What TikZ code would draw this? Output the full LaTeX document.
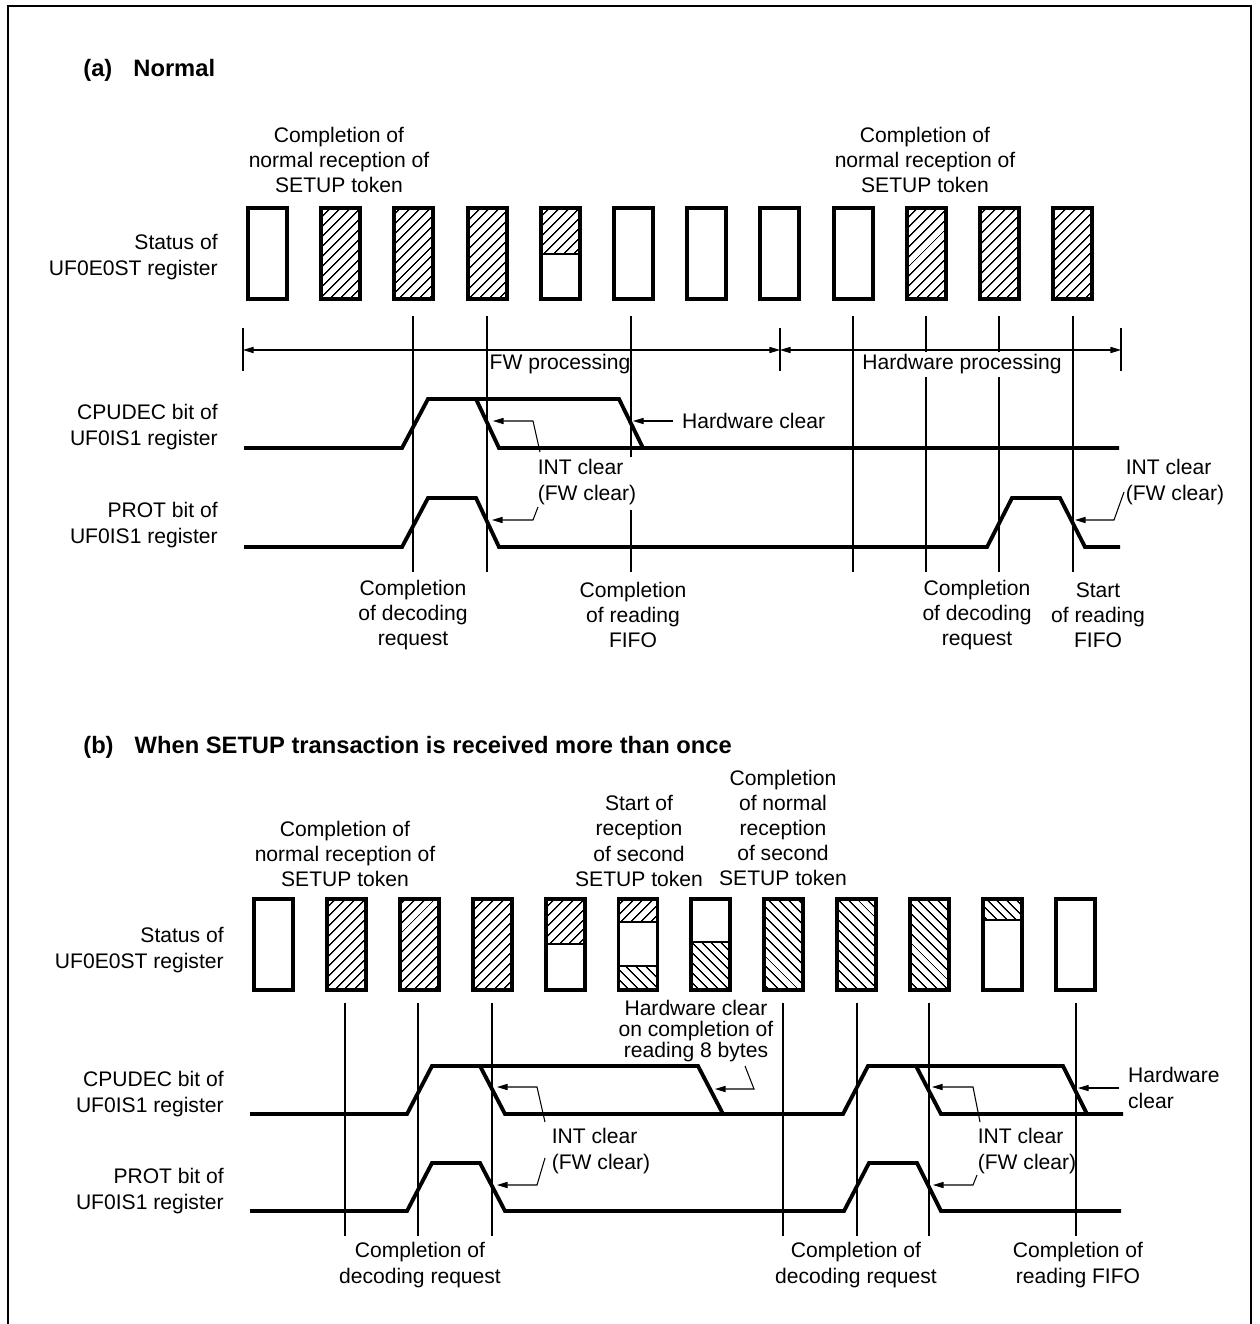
\documentclass[tikz,border=0pt]{standalone}
\usepackage{fontspec}
\setmainfont{Liberation Sans}
\usetikzlibrary{arrows.meta, patterns.meta}

\tikzset{
  regbox/.style={line width=2.2pt},
  split/.style={line width=1pt},
  hatchne/.style={pattern={Lines[angle=45,distance=4pt,line width=0.8pt]}},
  hatchnw/.style={pattern={Lines[angle=-45,distance=4pt,line width=0.8pt]}},
  signal/.style={line width=2.2pt, line join=miter},
  guide/.style={line width=0.6pt},
  leader/.style={line width=0.6pt, -{Triangle[length=6pt,width=3.5pt]}},
  span/.style={line width=0.6pt, {Triangle[length=6pt,width=3.5pt]}-{Triangle[length=6pt,width=3.5pt]}},
  txt/.style={inner sep=0pt, font=\fontsize{12}{14.3}\selectfont},
  title/.style={txt, anchor=west, font=\fontsize{13.5}{16}\selectfont\bfseries},
}

\begin{document}
\begin{tikzpicture}[x=0.02cm, y=-0.02cm]
  \useasboundingbox (0,0) rectangle (1259,1324);
  % Frame, open at the bottom
  \draw[line width=1.5pt] (8,1324) -- (8,6) -- (1251,6) -- (1251,1324);

  % ================= (a) Normal =================
  \node[title] (titleA) at (83,70) {(a)\hspace{12pt}Normal};

  % Register names
  \node[txt, anchor=east, align=right] (staA) at (218,257) {Status of\\UF0E0ST register};
  \node[txt, anchor=east, align=right] (cpuA) at (218,427) {CPUDEC bit of\\UF0IS1 register};
  \node[txt, anchor=east, align=right] (protA) at (218,525) {PROT bit of\\UF0IS1 register};

  % Events above the boxes
  \node[txt, align=center] (setupA1) at (339,160) {Completion of\\normal reception of\\SETUP token};
  \node[txt, align=center] (setupA2) at (925,160) {Completion of\\normal reception of\\SETUP token};

  % Status of UF0E0ST
  \foreach \i in {1,2,3,9,10,11}
    \fill[hatchne] (247+73.2*\i,207) rectangle ++(41,93);
  \fill[hatchne] (247+73.2*4,207) rectangle ++(41,47);
  \draw[split] (247+73.2*4,254) -- ++(41,0);
  \foreach \i in {0,...,11}
    \draw[regbox] (248+73.2*\i,208) rectangle ++(39,91);

  % Timing guides
  \foreach \x in {413,487,853,1073}
    \draw[guide] (\x,316) -- (\x,572);
  \draw[guide] (631,316) -- (631,457) (631,510) -- (631,572);
  \foreach \x in {926,999}
    \draw[guide] (\x,316) -- (\x,352) (\x,377) -- (\x,572);

  % FW / hardware processing
  \coordinate (spanL) at (243,350);
  \coordinate (spanM) at (780,350);
  \coordinate (spanR) at (1121,350);
  \foreach \x in {243,780,1121}
    \draw[guide] (\x,328) -- (\x,371);
  \draw[span] (spanL) -- (spanM);
  \draw[span] (spanM) -- (spanR);
  \node[txt] (fwA) at (560,364) {FW processing};
  \node[txt] (hwpA) at (962,364) {Hardware processing};

  % CPUDEC bit
  \draw[signal] (244,448) -- (402,448) -- (428,399) -- (619,399) -- (643,448) -- (1119,448);
  \draw[signal] (476,399) -- (499,448) -- (643,448);
  % PROT bit
  \draw[signal] (244,547) -- (402,547) -- (428,498) -- (476,498) -- (499,547) -- (987,547)
    -- (1012,498) -- (1060,498) -- (1085,547) -- (1120,547);

  % Clear notes
  \node[txt, anchor=west, inner xsep=5pt] (hwA) at (673,421) {Hardware clear};
  \coordinate (hwAtip) at (633,421);
  \draw[leader] (hwA.west) -- (hwAtip);

  \node[txt, align=left] (intA) at (587,482) {INT clear\\(FW clear)};
  \coordinate (intAu) at (540,452);
  \coordinate (intAuk) at (533,421);
  \coordinate (intAut) at (493,421);
  \coordinate (intAd) at (538,507);
  \coordinate (intAdk) at (533,520);
  \coordinate (intAdt) at (492,520);
  \draw[leader] (intAu) -- (intAuk) -- (intAut);
  \draw[leader] (intAd) -- (intAdk) -- (intAdt);

  \node[txt, align=left] (intB) at (1175,482) {INT clear\\(FW clear)};
  \coordinate (intBd) at (1124,492);
  \coordinate (intBdk) at (1114,520);
  \coordinate (intBdt) at (1075,520);
  \draw[leader] (intBd) -- (intBdk) -- (intBdt);

  % Events below the signals
  \node[txt, align=center] (decA1) at (413,615) {Completion\\of decoding\\request};
  \node[txt, align=center] (fifoA) at (633,615) {Completion\\of reading\\FIFO};
  \node[txt, align=center] (decA2) at (977,615) {Completion\\of decoding\\request};
  \node[txt, align=center] (startA) at (1098,615) {Start\\of reading\\FIFO};

  % ================= (b) SETUP received more than once =================
  \node[title] (titleB) at (83,747) {(b)\hspace{12pt}When SETUP transaction is received more than once};

  % Register names
  \node[txt, anchor=east, align=right] (staB) at (224,950) {Status of\\UF0E0ST register};
  \node[txt, anchor=east, align=right] (cpuB) at (224,1094) {CPUDEC bit of\\UF0IS1 register};
  \node[txt, anchor=east, align=right] (protB) at (224,1191) {PROT bit of\\UF0IS1 register};

  % Events above the boxes
  \node[txt, align=center] (setupB1) at (345,854) {Completion of\\normal reception of\\SETUP token};
  \node[txt, align=center] (setupB2) at (639,841) {Start of\\reception\\of second\\SETUP token};
  \node[txt, align=center] (setupB3) at (783,828) {Completion\\of normal\\reception\\of second\\SETUP token};

  % Status of UF0E0ST
  \foreach \i in {1,2,3}
    \fill[hatchne] (253+72.9*\i,898) rectangle ++(41,93);
  \foreach \i in {7,8,9}
    \fill[hatchnw] (253+72.9*\i,898) rectangle ++(41,93);
  \fill[hatchne] (253+72.9*4,898) rectangle ++(41,46);
  \draw[split] (253+72.9*4,944) -- ++(41,0);
  \fill[hatchne] (253+72.9*5,898) rectangle ++(41,24);
  \fill[hatchnw] (253+72.9*5,966) rectangle ++(41,25);
  \draw[split] (253+72.9*5,922) -- ++(41,0) (253+72.9*5,966) -- ++(41,0);
  \fill[hatchnw] (253+72.9*6,942) rectangle ++(41,49);
  \draw[split] (253+72.9*6,942) -- ++(41,0);
  \fill[hatchnw] (253+72.9*10,898) rectangle ++(41,22);
  \draw[split] (253+72.9*10,920) -- ++(41,0);
  \foreach \i in {0,...,11}
    \draw[regbox] (254+72.9*\i,899) rectangle ++(39,91);

  % Timing guides
  \foreach \x in {345,418,492,783,857,929,1076}
    \draw[guide] (\x,1003) -- (\x,1236);

  % CPUDEC bit
  \draw[signal] (250,1114) -- (407,1114) -- (432,1066) -- (698,1066) -- (723,1114) -- (843,1114)
    -- (868,1066) -- (1063,1066) -- (1087,1114) -- (1123,1114);
  \draw[signal] (480,1066) -- (505,1114) -- (723,1114);
  \draw[signal] (916,1066) -- (941,1114) -- (1087,1114);
  % PROT bit
  \draw[signal] (250,1211) -- (407,1211) -- (432,1163) -- (480,1163) -- (505,1211) -- (844,1211)
    -- (869,1163) -- (917,1163) -- (941,1211) -- (1121,1211);

  % Clear notes
  \node[txt, align=center, font=\fontsize{12}{12.2}\selectfont] (hw8B) at (696,1031)
    {Hardware clear\\on completion of\\reading 8 bytes};
  \coordinate (hw8Bs) at (745,1066);
  \coordinate (hw8Bk) at (754,1089);
  \coordinate (hw8Bt) at (715,1089);
  \draw[leader] (hw8Bs) -- (hw8Bk) -- (hw8Bt);

  \node[txt, anchor=west, align=left, inner xsep=5pt] (hwB) at (1119,1088) {Hardware\\clear};
  \coordinate (hwBtip) at (1078,1088);
  \draw[leader] (hwB.west) -- (hwBtip);

  \node[txt, align=left] (intC) at (601,1151) {INT clear\\(FW clear)};
  \coordinate (intCu) at (545,1122);
  \coordinate (intCuk) at (537,1087);
  \coordinate (intCut) at (497,1087);
  \coordinate (intCd) at (545,1158);
  \coordinate (intCdk) at (537,1185);
  \coordinate (intCdt) at (497,1185);
  \draw[leader] (intCu) -- (intCuk) -- (intCut);
  \draw[leader] (intCd) -- (intCdk) -- (intCdt);

  \node[txt, align=left] (intD) at (1027,1151) {INT clear\\(FW clear)};
  \coordinate (intDu) at (980,1122);
  \coordinate (intDuk) at (973,1087);
  \coordinate (intDut) at (932,1087);
  \coordinate (intDd) at (977,1175);
  \coordinate (intDdk) at (973,1185);
  \coordinate (intDdt) at (933,1185);
  \draw[leader] (intDu) -- (intDuk) -- (intDut);
  \draw[leader] (intDd) -- (intDdk) -- (intDdt);

  % Events below the signals
  \node[txt, align=center] (decB1) at (420,1265) {Completion of\\decoding request};
  \node[txt, align=center] (decB2) at (856,1265) {Completion of\\decoding request};
  \node[txt, align=center] (fifoB) at (1078,1265) {Completion of\\reading FIFO};
\end{tikzpicture}
\end{document}
